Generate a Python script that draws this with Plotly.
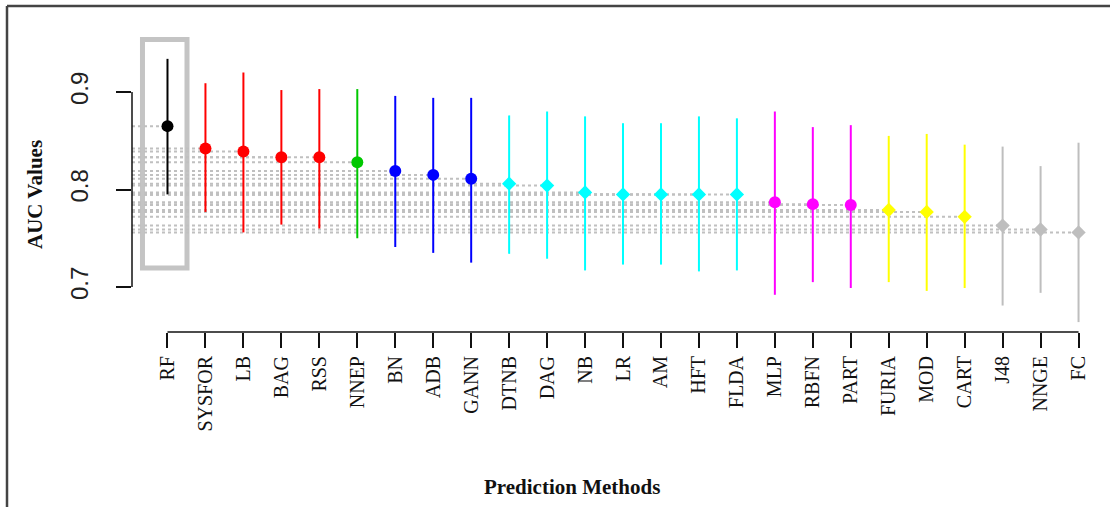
import plotly.graph_objects as go

methods = ["RF", "SYSFOR", "LB", "BAG", "RSS", "NNEP", "BN", "ADB", "GANN",
           "DTNB", "DAG", "NB", "LR", "AM", "HFT", "FLDA", "MLP", "RBFN",
           "PART", "FURIA", "MOD", "CART", "J48", "NNGE", "FC"]
auc_mean = [0.865, 0.842, 0.839, 0.833, 0.833, 0.828, 0.819, 0.815, 0.811,
            0.806, 0.804, 0.797, 0.795, 0.795, 0.795, 0.795, 0.787, 0.785,
            0.784, 0.779, 0.777, 0.772, 0.763, 0.759, 0.756]
auc_upper = [0.934, 0.909, 0.920, 0.902, 0.903, 0.903, 0.896, 0.894, 0.894,
             0.876, 0.880, 0.875, 0.868, 0.868, 0.875, 0.873, 0.880, 0.864,
             0.866, 0.855, 0.857, 0.846, 0.844, 0.824, 0.848]
auc_lower = [0.795, 0.777, 0.756, 0.764, 0.760, 0.750, 0.741, 0.735, 0.725,
             0.734, 0.729, 0.717, 0.723, 0.723, 0.716, 0.717, 0.692, 0.705,
             0.699, 0.705, 0.696, 0.699, 0.681, 0.694, 0.664]
groups = ["black", "red", "red", "red", "red", "green", "blue", "blue", "blue",
          "cyan", "cyan", "cyan", "cyan", "cyan", "cyan", "cyan",
          "magenta", "magenta", "magenta", "yellow", "yellow", "yellow",
          "gray", "gray", "gray"]
y_ticks = [0.7, 0.8, 0.9]

color_map = {"black": "#000000", "red": "#ff0000", "green": "#00c800",
             "blue": "#0000ff", "cyan": "#00ffff", "magenta": "#ff00ff",
             "yellow": "#ffff00", "gray": "#bebebe"}
symbol_map = {"black": "circle", "red": "circle", "green": "circle",
              "blue": "circle", "cyan": "diamond", "magenta": "circle",
              "yellow": "diamond", "gray": "diamond"}

x_idx = list(range(len(methods)))
x_range = [-0.935, 24.697]
y_range = [0.65385, 0.96359]

fig = go.Figure()

# dotted reference lines from the y axis to each point
dx, dy = [], []
for i, v in zip(x_idx, auc_mean):
    dx += [x_range[0], i, None]
    dy += [v, v, None]
fig.add_trace(go.Scatter(x=dx, y=dy, mode="lines", hoverinfo="skip",
                         line=dict(color="#c0c0c0", width=2, dash="dot"),
                         showlegend=False))

# whiskers
for i, lo, hi, g in zip(x_idx, auc_lower, auc_upper, groups):
    fig.add_trace(go.Scatter(x=[i, i], y=[lo, hi], mode="lines",
                             line=dict(color=color_map[g], width=2),
                             showlegend=False, hoverinfo="skip"))

# points
for g in color_map:
    xs = [i for i, gg in zip(x_idx, groups) if gg == g]
    ys = [v for v, gg in zip(auc_mean, groups) if gg == g]
    sym = symbol_map[g]
    fig.add_trace(go.Scatter(x=xs, y=ys, mode="markers",
                             marker=dict(color=color_map[g], symbol=sym,
                                         size=12 if sym == "circle" else 11,
                                         line=dict(width=0)),
                             showlegend=False))

serif = "Liberation Serif, Times New Roman, serif"

fig.update_layout(
    width=1110, height=507,
    margin=dict(l=132, r=5, t=30, b=175),
    paper_bgcolor="white", plot_bgcolor="white",
    xaxis=dict(range=x_range, tickmode="array", tickvals=x_idx, ticktext=methods,
               tickangle=-90, ticks="outside", ticklen=15, tickwidth=1.5,
               tickcolor="#111", showline=False, showgrid=False, zeroline=False,
               tickfont=dict(family=serif, size=20, color="#111"),
               ticklabelstandoff=0),
    yaxis=dict(range=y_range, tickmode="array", tickvals=y_ticks,
               ticktext=[f"{v:.1f}" for v in y_ticks],
               tickangle=-90, ticks="outside", ticklen=15, tickwidth=1.5,
               tickcolor="#111", showline=False, showgrid=False, zeroline=False,
               tickfont=dict(family="Liberation Sans, Arial, sans-serif", size=24, color="#222"),
               ticklabelstandoff=18),
)

# partial axis lines (R style)
fig.add_shape(type="line", xref="paper", yref="y", x0=0, x1=0,
              y0=y_ticks[0], y1=y_ticks[-1], line=dict(color="#111", width=1.5))
fig.add_shape(type="line", xref="x", yref="paper", x0=x_idx[0], x1=x_idx[-1],
              y0=0, y1=0, line=dict(color="#111", width=1.5))

# highlight box around the best method
fig.add_shape(type="rect", xref="x", yref="y", x0=-0.659, x1=0.514,
              y0=0.7195, y1=0.9538, line=dict(color="#c4c4c4", width=5),
              layer="below")

# figure frame (top and left edges visible)
pw, ph = 1110 - 132 - 5, 507 - 30 - 175
def px2paper_x(px):
    return (px - 132) / pw
def py2paper_y(py):
    return (507 - 175 - py) / ph
fig.add_shape(type="line", xref="paper", yref="paper",
              x0=px2paper_x(7), x1=px2paper_x(1110), y0=py2paper_y(6), y1=py2paper_y(6),
              line=dict(color="#444", width=2.5))
fig.add_shape(type="line", xref="paper", yref="paper",
              x0=px2paper_x(7), x1=px2paper_x(7), y0=py2paper_y(6), y1=py2paper_y(510),
              line=dict(color="#444", width=2.5))

# axis titles
fig.add_annotation(text="<b>Prediction Methods</b>", xref="paper", yref="paper",
                   x=px2paper_x(572), y=py2paper_y(487), showarrow=False,
                   xanchor="center", yanchor="middle",
                   font=dict(family=serif, size=21, color="#111"))
fig.add_annotation(text="<b>AUC Values</b>", xref="paper", yref="paper",
                   x=px2paper_x(35), y=py2paper_y(195), showarrow=False,
                   textangle=-90, xanchor="center", yanchor="middle",
                   font=dict(family=serif, size=21, color="#111"))

fig.write_html("out.html", config={"displayModeBar": False},
               post_script="document.body.style.margin='0';document.body.style.overflow='hidden';")
